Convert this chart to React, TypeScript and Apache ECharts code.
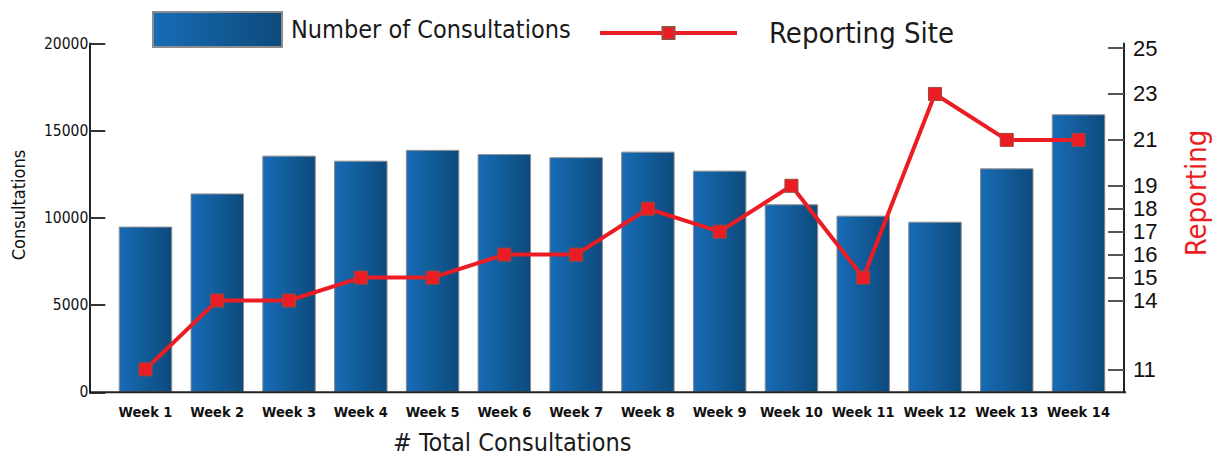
import React, { useEffect, useRef } from "react";
import * as echarts from "echarts";

const categories = ["Week 1", "Week 2", "Week 3", "Week 4", "Week 5", "Week 6", "Week 7", "Week 8", "Week 9", "Week 10", "Week 11", "Week 12", "Week 13", "Week 14"];
const consultations = [9500, 11400, 13570, 13280, 13900, 13660, 13480, 13800, 12710, 10780, 10130, 9780, 12840, 15940];
const reportingSites = [11, 14, 14, 15, 15, 16, 16, 18, 17, 19, 15, 23, 21, 21];
const leftAxisTicks = [0, 5000, 10000, 15000, 20000];
const rightAxisTicks = [11, 14, 15, 16, 17, 18, 19, 21, 23, 25];

const NARROW = "'DejaVu Sans Condensed', 'Liberation Sans', sans-serif";
const REG = "'Liberation Sans', Arial, sans-serif";

const GRID_LEFT = 109.6;
const GRID_RIGHT = 101.6;
const GRID_TOP = 43.5;
const GRID_BOTTOM = 63.7;
const W = 1216;
const H = 456;

export default function App() {
  const ref = useRef<HTMLDivElement>(null);
  useEffect(() => {
    if (!ref.current) return;
    const chart = echarts.init(ref.current, undefined, { renderer: "svg" });
    const axisY = H - GRID_BOTTOM;
    chart.setOption({
      animation: false,
      backgroundColor: "#ffffff",
      grid: { left: GRID_LEFT, right: GRID_RIGHT, top: GRID_TOP, bottom: GRID_BOTTOM },
      legend: [
        {
          data: [{ name: "Number of Consultations", icon: "rect" }],
          left: 152,
          top: 11,
          padding: 0,
          itemWidth: 129,
          itemHeight: 35,
          textStyle: { fontFamily: NARROW, fontSize: 25, color: "#1a1a1a", padding: [6, 0, 0, 4] },
        },
        {
          data: ["Reporting Site"],
          left: 598,
          top: 18.5,
          padding: 0,
          itemWidth: 137,
          itemHeight: 15,
          lineStyle: { width: 4 },
          textStyle: { fontFamily: NARROW, fontSize: 29, color: "#1a1a1a", padding: [0, 0, 0, 27] },
        },
      ],
      title: {
        text: "# Total Consultations",
        left: 393,
        top: 430,
        padding: 0,
        textStyle: { fontFamily: NARROW, fontSize: 25, fontWeight: "normal", color: "#1a1a1a" },
      },
      xAxis: {
        type: "category",
        data: categories,
        axisLine: { show: false },
        axisTick: { show: false },
        axisLabel: { interval: 0, margin: 12, fontFamily: NARROW, fontWeight: "bold", fontSize: 14.5, color: "#111" },
      },
      yAxis: [
        {
          type: "value",
          min: leftAxisTicks[0],
          max: leftAxisTicks[leftAxisTicks.length - 1],
          interval: leftAxisTicks[1] - leftAxisTicks[0],
          position: "left",
          offset: 20.3,
          axisLine: { show: true, lineStyle: { color: "#222", width: 2 } },
          axisTick: { show: true, inside: true, length: 16, lineStyle: { color: "#333", width: 2 } },
          axisLabel: { margin: 1, fontFamily: NARROW, fontSize: 15.5, color: "#111", formatter: (v: number) => String(v) },
          splitLine: { show: false },
        },
        {
          type: "value",
          min: 10,
          max: 25.2,
          position: "right",
          offset: 9.6,
          axisLine: { show: true, lineStyle: { color: "#222", width: 2 } },
          axisTick: { show: true, inside: true, length: 16, customValues: rightAxisTicks, lineStyle: { color: "#555", width: 2 } },
          axisLabel: { customValues: rightAxisTicks, margin: 9, fontFamily: REG, fontSize: 22, color: "#111" },
          splitLine: { show: false },
        },
      ],
      series: [
        {
          type: "bar",
          name: "Number of Consultations",
          data: consultations,
          barWidth: "74.5%",
          itemStyle: {
            color: new echarts.graphic.LinearGradient(0, 0, 1, 0, [
              { offset: 0, color: "#176cb6" },
              { offset: 1, color: "#0d4a7c" },
            ]),
            borderColor: "#8d8d8d",
            borderWidth: 1,
          },
        },
        {
          type: "line",
          name: "Reporting Site",
          yAxisIndex: 1,
          data: reportingSites,
          symbol: "rect",
          symbolSize: 13,
          z: 3,
          lineStyle: { color: "#ec1c24", width: 4 },
          itemStyle: { color: "#ec1c24", borderColor: "#9b4a3d", borderWidth: 1 },
        },
      ],
      graphic: [
        {
          type: "line",
          shape: { x1: GRID_LEFT - 20.3, y1: axisY, x2: W - GRID_RIGHT + 11.6, y2: axisY },
          style: { stroke: "#222", lineWidth: 2 },
          z: 10,
        },
        {
          type: "text",
          x: 18,
          y: 205,
          rotation: Math.PI / 2,
          style: { text: "Consultations", fontFamily: NARROW, fontSize: 18, fill: "#111", align: "center", verticalAlign: "middle" },
        },
        {
          type: "text",
          x: 1196,
          y: 193,
          rotation: Math.PI / 2,
          style: { text: "Reporting", fontFamily: NARROW, fontSize: 29, fill: "#ec1c24", align: "center", verticalAlign: "middle" },
        },
      ],
    });
    return () => chart.dispose();
  }, []);
  return <div ref={ref} style={{ position: "fixed", left: 0, top: 0, width: W, height: H }} />;
}
